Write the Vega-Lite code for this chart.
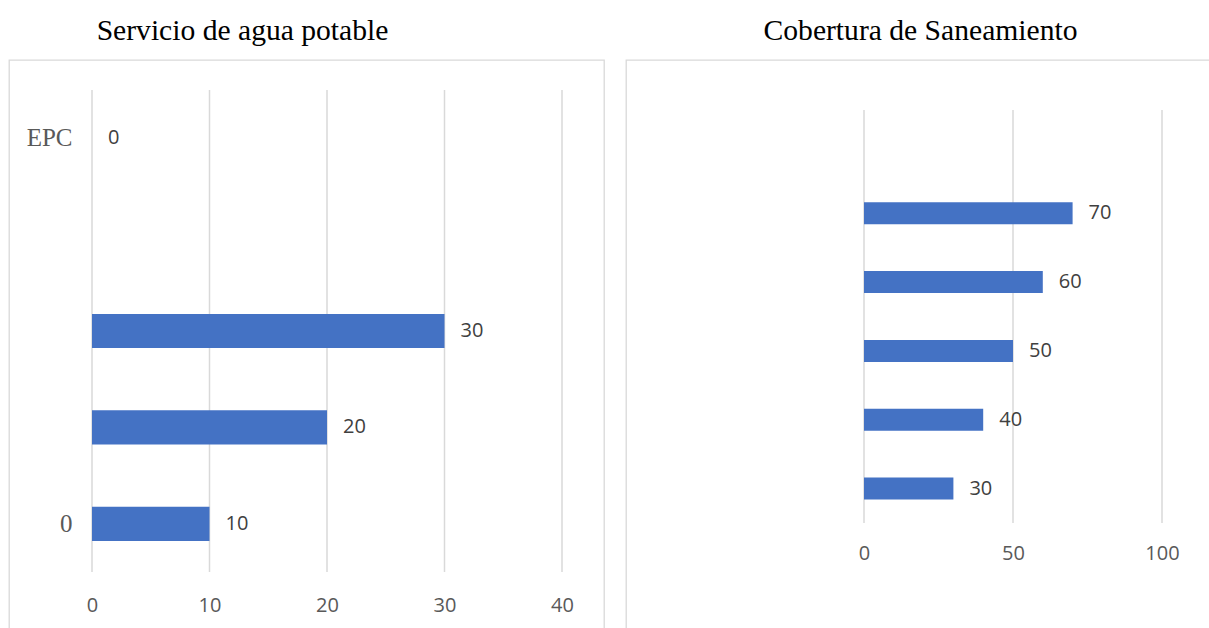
{
  "$schema": "https://vega.github.io/schema/vega-lite/v6.json",
  "padding": {"left": 8, "top": 15, "right": 0, "bottom": 0},
  "spacing": 20,
  "config": {
    "view": {"stroke": "#d9d9d9", "strokeWidth": 1.3},
    "title": {"font": "Liberation Serif", "fontSize": 29.6, "fontWeight": "normal", "color": "#000000", "offset": 13},
    "axis": {"labelFlush": false}
  },
  "datasets": {
    "agua": [
      {"cat": "EPC", "valor": 0},
      {"cat": "  ", "valor": 30},
      {"cat": "   ", "valor": 20},
      {"cat": "0", "valor": 10}
    ],
    "aguaTicks": [{"t": 0}, {"t": 10}, {"t": 20}, {"t": 30}, {"t": 40}],
    "san": [
      {"cat": "c2", "valor": 70},
      {"cat": "c3", "valor": 60},
      {"cat": "c4", "valor": 50},
      {"cat": "c5", "valor": 40},
      {"cat": "c6", "valor": 30}
    ],
    "sanTicks": [{"t": 0}, {"t": 50}, {"t": 100}]
  },
  "hconcat": [
    {
      "width": 595,
      "height": 571,
      "title": {"text": "Servicio de agua potable", "dx": -64},
      "resolve": {"scale": {"y": "independent"}, "axis": {"y": "independent"}},
      "layer": [
        {
          "data": {"name": "aguaTicks"},
          "mark": {"type": "rule", "color": "#d9d9d9", "strokeWidth": 1.5},
          "encoding": {
            "x": {"field": "t", "type": "quantitative", "scale": {"domain": [0, 40], "range": [83, 553], "nice": false},
              "axis": {"values": [0, 10, 20, 30, 40], "grid": false, "ticks": false, "domain": false, "title": null, "labelFlush": false,
                "labelFont": "Open Sans", "labelFontSize": 20, "labelColor": "#595959", "offset": -36, "labelPadding": 0}},
            "y": {"datum": 0, "type": "quantitative", "scale": {"domain": [0, 1], "range": [30, 512]}, "axis": null},
            "y2": {"datum": 1}
          }
        },
        {
          "data": {"name": "agua"},
          "layer": [
            {
              "mark": {"type": "bar", "color": "#4472C4"},
              "encoding": {
                "x": {"field": "valor", "type": "quantitative", "scale": {"domain": [0, 40], "range": [83, 553], "nice": false},
                  "axis": {"values": [0, 10, 20, 30, 40], "grid": false, "ticks": false, "domain": false, "title": null, "labelFlush": false,
                    "labelFont": "Open Sans", "labelFontSize": 20, "labelColor": "#595959", "offset": -36, "labelPadding": 0}},
                "y": {"field": "cat", "type": "nominal", "sort": null,
                  "scale": {"domain": ["EPC", " ", "  ", "   ", "0"], "range": [30, 512], "paddingInner": 0.645, "paddingOuter": 0.3225},
                  "axis": {"grid": false, "ticks": false, "domain": false, "title": null, "labelFont": "Liberation Serif", "labelFontSize": 25,
                    "labelColor": "#595959", "offset": -63, "labelPadding": 0}}
              }
            },
            {
              "mark": {"type": "text", "align": "left", "baseline": "middle", "dx": 16, "font": "Open Sans", "fontSize": 20, "color": "#404040"},
              "encoding": {
                "x": {"field": "valor", "type": "quantitative"},
                "y": {"field": "cat", "type": "nominal", "sort": null},
                "text": {"field": "valor", "type": "quantitative"}
              }
            }
          ]
        }
      ]
    },
    {
      "width": 585,
      "height": 571,
      "title": {"text": "Cobertura de Saneamiento", "dx": 2},
      "resolve": {"scale": {"y": "independent"}, "axis": {"y": "independent"}},
      "layer": [
        {
          "data": {"name": "sanTicks"},
          "mark": {"type": "rule", "color": "#d9d9d9", "strokeWidth": 1.5},
          "encoding": {
            "x": {"field": "t", "type": "quantitative", "scale": {"domain": [0, 100], "range": [238, 536], "nice": false},
              "axis": {"values": [0, 50, 100], "grid": false, "ticks": false, "domain": false, "title": null, "labelFlush": false,
                "labelFont": "Open Sans", "labelFontSize": 20, "labelColor": "#595959", "offset": -88, "labelPadding": 0}},
            "y": {"datum": 0, "type": "quantitative", "scale": {"domain": [0, 1], "range": [50, 463]}, "axis": null},
            "y2": {"datum": 1}
          }
        },
        {
          "data": {"name": "san"},
          "layer": [
            {
              "mark": {"type": "bar", "color": "#4472C4"},
              "encoding": {
                "x": {"field": "valor", "type": "quantitative", "scale": {"domain": [0, 100], "range": [238, 536], "nice": false},
                  "axis": {"values": [0, 50, 100], "grid": false, "ticks": false, "domain": false, "title": null, "labelFlush": false,
                    "labelFont": "Open Sans", "labelFontSize": 20, "labelColor": "#595959", "offset": -88, "labelPadding": 0}},
                "y": {"field": "cat", "type": "nominal", "sort": null,
                  "scale": {"domain": ["c1", "c2", "c3", "c4", "c5", "c6"], "range": [50, 463], "paddingInner": 0.68, "paddingOuter": 0.34},
                  "axis": null}
              }
            },
            {
              "mark": {"type": "text", "align": "left", "baseline": "middle", "dx": 16, "font": "Open Sans", "fontSize": 20, "color": "#404040"},
              "encoding": {
                "x": {"field": "valor", "type": "quantitative"},
                "y": {"field": "cat", "type": "nominal", "sort": null},
                "text": {"field": "valor", "type": "quantitative"}
              }
            }
          ]
        }
      ]
    }
  ]
}
